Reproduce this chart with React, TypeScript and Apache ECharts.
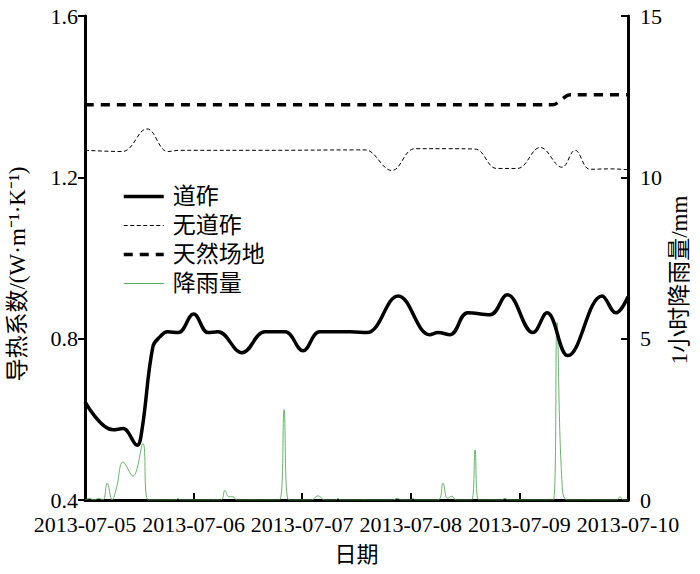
import React, { useEffect, useRef } from "react";
import * as echarts from "echarts";

const dateLabels = ["2013-07-05", "2013-07-06", "2013-07-07", "2013-07-08", "2013-07-09", "2013-07-10"];
const leftAxisTitle = "导热系数/(W·m⁻¹·K⁻¹)";
const rightAxisTitle = "1小时降雨量/mm";
const xAxisTitle = "日期";

// 道砟 (hours from 2013-07-05 00:00, thermal conductivity)
const ballastHours = [0, 6.2, 8.4, 11.5, 12.6, 15, 16.6, 18.2, 20.6, 24.0, 27.2, 29.4, 34.7, 39.8, 44.2, 48.2, 51.9, 58.6, 62.3, 69.2, 76.2, 78, 80.7, 84.6, 89.5, 93.3, 99, 102.1, 106.7, 114.3, 117.3, 120];
const ballastValues = [0.643, 0.574, 0.577, 0.536, 0.575, 0.78, 0.805, 0.817, 0.815, 0.861, 0.815, 0.817, 0.765, 0.817, 0.817, 0.770, 0.817, 0.817, 0.815, 0.906, 0.810, 0.815, 0.810, 0.864, 0.859, 0.909, 0.815, 0.864, 0.758, 0.906, 0.864, 0.904];

// 无道砟
const noBallastHours = [0, 8.2, 13.7, 18.3, 21, 40, 60, 61.9, 67.8, 72.9, 80, 86.2, 91, 95.5, 100.6, 105.4, 108.3, 111.6, 116, 120];
const noBallastValues = [1.267, 1.264, 1.320, 1.264, 1.267, 1.267, 1.268, 1.268, 1.217, 1.271, 1.271, 1.270, 1.222, 1.222, 1.274, 1.225, 1.267, 1.220, 1.221, 1.219];

// 天然场地
const naturalHours = [0, 50, 100, 103.4, 105.3, 107.2, 110, 120];
const naturalValues = [1.380, 1.380, 1.380, 1.380, 1.393, 1.405, 1.405, 1.405];

// 降雨量 (mm per hour)
const rainHours = [0, 1, 2, 3, 4, 4.9, 6, 7, 8.4, 10.6, 12.8, 14, 20, 20.6, 21, 30, 30.9, 31.8, 32.7, 33.6, 43, 44, 45, 50, 51.5, 53, 55.4, 55.9, 56.5, 68, 69, 70, 72, 72.5, 73, 78, 79.1, 80.1, 81.1, 82, 85.4, 86.2, 87, 92, 92.8, 93.6, 103.5, 104.3, 105.4, 106.7, 117.5, 118.2, 119, 120];
const rainValues = [0, 0.05, 0, 0.05, 0, 0.53, 0, 0.4, 1.18, 0.74, 1.75, 0, 0, 0.05, 0, 0, 0.3, 0.1, 0.1, 0, 0, 2.8, 0, 0, 0.13, 0, 0, 0.05, 0, 0, 0.05, 0, 0, 0.05, 0, 0, 0.52, 0.05, 0.12, 0, 0, 1.55, 0, 0, 0.05, 0, 0, 5.5, 0.6, 0, 0, 0.1, 0, 0];

const pairs = (xs: number[], ys: number[]) => xs.map((x, i) => [x, ys[i]]);

const FONT = "'Liberation Serif', 'Noto Sans CJK SC', serif";

export default function App() {
  const ref = useRef<HTMLDivElement>(null);
  useEffect(() => {
    if (!ref.current) return;
    const chart = echarts.init(ref.current, undefined, { renderer: "svg" });
    const axisCommon = {
      axisLine: { show: true, onZero: false, lineStyle: { color: "#000", width: 3 } },
      splitLine: { show: false },
      axisLabel: { color: "#000", fontSize: 22, fontFamily: FONT },
      nameTextStyle: { color: "#000", fontSize: 22, fontFamily: FONT },
    };
    chart.setOption({
      animation: false,
      backgroundColor: "#fff",
      grid: { left: 85, right: 72, top: 16, bottom: 74 },
      legend: {
        orient: "vertical",
        left: 117,
        top: 180,
        itemWidth: 40,
        itemHeight: 14,
        itemGap: 6,
        itemStyle: { opacity: 0 },
        textStyle: { color: "#000", fontSize: 23, lineHeight: 23, fontFamily: FONT, padding: [0, 0, 0, 4] },
        data: [
          { name: "道砟", lineStyle: { width: 3.5 } },
          { name: "无道砟", lineStyle: { width: 1 } },
          { name: "天然场地", lineStyle: { width: 3.5 } },
          { name: "降雨量", lineStyle: { width: 1 } },
        ],
      },
      graphic: [
        {
          type: "text",
          x: 17.5,
          y: 274,
          rotation: Math.PI / 2,
          style: { text: leftAxisTitle, fill: "#000", font: `23px ${FONT}`, textAlign: "center", textVerticalAlign: "middle" },
        },
        {
          type: "text",
          x: 679,
          y: 280,
          rotation: Math.PI / 2,
          style: { text: rightAxisTitle, fill: "#000", font: `23px ${FONT}`, textAlign: "center", textVerticalAlign: "middle" },
        },
      ],
      xAxis: {
        ...axisCommon,
        type: "value",
        min: 0,
        max: 120,
        interval: 24,
        name: xAxisTitle,
        nameLocation: "middle",
        nameGap: 43,
        axisTick: { show: true, inside: true, length: 7, lineStyle: { color: "#000", width: 2 } },
        axisLabel: {
          ...axisCommon.axisLabel,
          lineHeight: 18,
          margin: 15,
          formatter: (v: number) => dateLabels[Math.round(v / 24)] ?? "",
        },
      },
      yAxis: [
        {
          ...axisCommon,
          type: "value",
          position: "left",
          min: 0.4,
          max: 1.6,
          interval: 0.4,
          axisTick: { show: true, inside: false, length: 7, lineStyle: { color: "#000", width: 2 } },
          axisLabel: { ...axisCommon.axisLabel, lineHeight: 16, margin: 7, formatter: (v: number) => v.toFixed(1) },
        },
        {
          ...axisCommon,
          type: "value",
          position: "right",
          min: 0,
          max: 15,
          interval: 5,
          axisTick: { show: true, inside: true, length: 7, lineStyle: { color: "#000", width: 2 } },
          axisLabel: { ...axisCommon.axisLabel, lineHeight: 16, margin: 12 },
        },
      ],
      series: [
        {
          name: "降雨量",
          type: "line",
          yAxisIndex: 1,
          data: pairs(rainHours, rainValues),
          smooth: 0.4,
          symbol: "none",
          lineStyle: { color: "#5aaa5a", width: 0.9 },
          itemStyle: { color: "#5aaa5a" },
        },
        {
          name: "天然场地",
          type: "line",
          data: pairs(naturalHours, naturalValues),
          smooth: 0.4,
          symbol: "none",
          lineStyle: { color: "#000", width: 3.5, type: [9, 7] },
          itemStyle: { color: "#000" },
        },
        {
          name: "无道砟",
          type: "line",
          data: pairs(noBallastHours, noBallastValues),
          smooth: 0.4,
          symbol: "none",
          lineStyle: { color: "#000", width: 1, type: [4, 2.5] },
          itemStyle: { color: "#000" },
        },
        {
          name: "道砟",
          type: "line",
          data: pairs(ballastHours, ballastValues),
          smooth: 0.4,
          symbol: "none",
          lineStyle: { color: "#000", width: 3.5 },
          itemStyle: { color: "#000" },
        },
      ],
    });
    return () => chart.dispose();
  }, []);
  return <div ref={ref} style={{ position: "absolute", left: 0, top: 0, width: 700, height: 574 }} />;
}
